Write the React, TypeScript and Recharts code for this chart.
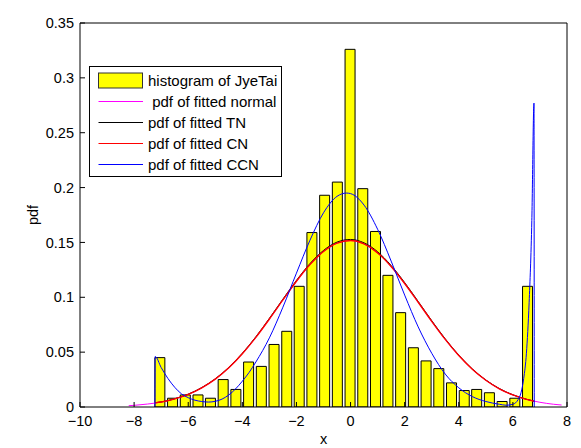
import React from "react"
import { ComposedChart, Bar, Line, XAxis, YAxis, Legend } from "recharts"

// histogram bins (centres) and heights
const histX = [
  -7.04, -6.57, -6.1, -5.63, -5.17, -4.7, -4.23, -3.76, -3.29, -2.82,
  -2.35, -1.89, -1.42, -0.95, -0.48, -0.01, 0.46, 0.93, 1.39, 1.86,
  2.33, 2.8, 3.27, 3.74, 4.21, 4.67, 5.14, 5.61, 6.08, 6.55,
]
const histY = [
  0.045, 0.008, 0.011, 0.011, 0.008, 0.025, 0.016, 0.041, 0.037, 0.057,
  0.069, 0.11, 0.159, 0.193, 0.205, 0.326, 0.199, 0.16, 0.12, 0.086,
  0.054, 0.042, 0.035, 0.022, 0.015, 0.016, 0.013, 0.005, 0.008, 0.11,
]

// fitted normal
const normalX = [
  -8.2, -8, -7.5, -7, -6.5, -6, -5.5, -5, -4.5, -4, -3.5, -3, -2.5, -2, -1.5, -1, -0.5, 0,
  0.5, 1, 1.5, 2, 2.5, 3, 3.5, 4, 4.5, 5, 5.5, 6, 6.5, 7, 7.5, 7.8,
]
const normalY = [
  0.0012, 0.0015, 0.0027, 0.0045, 0.0074, 0.0115, 0.0175, 0.0254, 0.0358, 0.0486, 0.0635, 0.0802,
  0.0976, 0.1146, 0.1298, 0.1417, 0.1493, 0.1517, 0.1486, 0.1405, 0.1281, 0.1126, 0.0955, 0.0781,
  0.0616, 0.0469, 0.0344, 0.0244, 0.0166, 0.011, 0.007, 0.0043, 0.0025, 0.0018,
]

// truncated fits (TN, CN) on the data range
const truncX = [
  -7.22, -7, -6.5, -6, -5.5, -5, -4.5, -4, -3.5, -3, -2.5, -2, -1.5, -1, -0.5, 0,
  0.5, 1, 1.5, 2, 2.5, 3, 3.5, 4, 4.5, 5, 5.5, 6, 6.5, 6.79,
]
const tnY = [
  0.0039, 0.0046, 0.0075, 0.0117, 0.0177, 0.0257, 0.0361, 0.049, 0.064, 0.0808, 0.0983, 0.1154,
  0.1307, 0.1427, 0.1503, 0.1527, 0.1496, 0.1415, 0.129, 0.1134, 0.0962, 0.0787, 0.0621, 0.0473,
  0.0347, 0.0246, 0.0168, 0.0111, 0.0071, 0.0053,
]
const cnY = [
  0.0038, 0.0045, 0.0074, 0.0115, 0.0175, 0.0254, 0.0358, 0.0486, 0.0635, 0.0802, 0.0976, 0.1146,
  0.1298, 0.1417, 0.1493, 0.1517, 0.1486, 0.1405, 0.1281, 0.1126, 0.0955, 0.0781, 0.0616, 0.0469,
  0.0344, 0.0244, 0.0166, 0.011, 0.007, 0.0052,
]

// fitted CCN
const ccnX = [
  -7.23, -7.22, -7, -6.75, -6.5, -6.25, -6, -5.75, -5.5, -5.25, -5, -4.75, -4.5, -4.25, -4, -3.75,
  -3.5, -3, -2.5, -2, -1.5, -1, -0.5, -0.15, 0, 0.5, 1, 1.5, 2, 2.5, 3, 3.5, 4, 4.5, 5, 5.5, 5.75,
  6, 6.2, 6.3, 6.4, 6.5, 6.6, 6.7, 6.78, 6.79,
]
const ccnY = [
  0, 0.046, 0.036, 0.026, 0.018, 0.012, 0.0085, 0.0062, 0.005, 0.0045, 0.0052, 0.0072, 0.011,
  0.0165, 0.0235, 0.0315, 0.041, 0.063, 0.091, 0.122, 0.152, 0.177, 0.192, 0.195, 0.1945, 0.184,
  0.162, 0.133, 0.102, 0.073, 0.049, 0.03, 0.0175, 0.0095, 0.005, 0.0025, 0.0016, 0.0025, 0.007,
  0.013, 0.026, 0.049, 0.095, 0.17, 0.277, 0,
]

const xTicks = [-10, -8, -6, -4, -2, 0, 2, 4, 6, 8]
const yTicks = [0, 0.05, 0.1, 0.15, 0.2, 0.25, 0.3, 0.35]

const legendNames = ["histogram of JyeTai", " pdf of fitted normal", "pdf of fitted TN", "pdf of fitted CN", "pdf of fitted CCN"]
const legendColors = ["#ffff00", "#ff00ff", "#000000", "#ff0000", "#0000ff"]

const histData = histX.map((x, i) => ({ x, hist: histY[i] }))
const toPoints = (xs: number[], ys: number[]) => xs.map((x, i) => ({ x, y: ys[i] }))

const fmtX = (v: number) => (v < 0 ? "\u2212" + Math.abs(v) : String(v))

const renderLegend = () => (
  <svg width={194} height={112} style={{ display: "block" }}>
    <rect x={0.5} y={0.5} width={192} height={110} fill="#fff" stroke="#000" />
    {legendNames.map((name, i) => {
      const cy = 14.5 + i * 21
      return (
        <g key={name}>
          {i === 0 ? (
            <rect x={9.5} y={cy - 7.5} width={44} height={15} fill={legendColors[i]} stroke="#333" />
          ) : (
            <line x1={9.5} x2={54} y1={cy} y2={cy} stroke={legendColors[i]} strokeWidth={1} />
          )}
          <text
            x={59}
            y={cy + 5}
            fontSize={15}
            fill="#000"
            fontFamily="'Liberation Sans', Arial, sans-serif"
            style={{ whiteSpace: "pre" }}
          >
            {name}
          </text>
        </g>
      )
    })}
  </svg>
)

export default function App() {
  return (
    <div style={{ position: "absolute", left: 0, top: 0, fontFamily: "'Liberation Sans', Arial, sans-serif" }}>
      <ComposedChart width={581} height={448} data={histData} margin={{ top: 22, right: 13, bottom: 0, left: 0 }}>
        <XAxis
          dataKey="x"
          type="number"
          domain={[-10, 8]}
          ticks={xTicks}
          tickFormatter={fmtX}
          height={41}
          stroke="#000"
          tickSize={-5}
          tickMargin={14}
          tick={{ fill: "#000", fontSize: 14.5 }}
          allowDataOverflow
          label={{ value: "x", position: "insideBottom", offset: 4, fill: "#000", fontSize: 14.5 }}
        />
        {/* top axis: box edge with inward ticks, also carries the fitted curves */}
        <XAxis
          xAxisId="top"
          dataKey="x"
          orientation="top"
          type="number"
          domain={[-10, 8]}
          ticks={xTicks}
          height={1}
          stroke="#000"
          tickSize={-5}
          tick={false}
          allowDataOverflow
        />
        <YAxis
          type="number"
          domain={[0, 0.35]}
          ticks={yTicks}
          width={80}
          stroke="#000"
          tickSize={-5}
          tickMargin={11}
          tick={{ fill: "#000", fontSize: 14.5 }}
          allowDataOverflow
          label={{ value: "pdf", angle: -90, position: "insideLeft", offset: 33, textAnchor: "middle", fill: "#000", fontSize: 14.5 }}
        />
        <YAxis
          yAxisId="right"
          orientation="right"
          type="number"
          domain={[0, 0.35]}
          ticks={yTicks}
          width={1}
          stroke="#000"
          tickSize={-5}
          tick={false}
        />
        <Legend
          layout="vertical"
          align="center"
          verticalAlign="middle"
          content={renderLegend}
          wrapperStyle={{ left: 89, top: 66, width: 194, height: 112 }}
        />
        <Bar dataKey="hist" fill="#ffff00" stroke="#000" strokeWidth={1} barSize={10} isAnimationActive={false} />
        <Line xAxisId="top" data={toPoints(normalX, normalY)} dataKey="y" type="monotone" stroke="#ff00ff" strokeWidth={1} dot={false} isAnimationActive={false} />
        <Line xAxisId="top" data={toPoints(truncX, tnY)} dataKey="y" type="monotone" stroke="#000000" strokeWidth={1} dot={false} isAnimationActive={false} />
        <Line xAxisId="top" data={toPoints(truncX, cnY)} dataKey="y" type="monotone" stroke="#ff0000" strokeWidth={1.4} dot={false} isAnimationActive={false} />
        <Line xAxisId="top" data={toPoints(ccnX, ccnY)} dataKey="y" type="monotone" stroke="#0000ff" strokeWidth={1} dot={false} isAnimationActive={false} />
      </ComposedChart>
    </div>
  )
}
